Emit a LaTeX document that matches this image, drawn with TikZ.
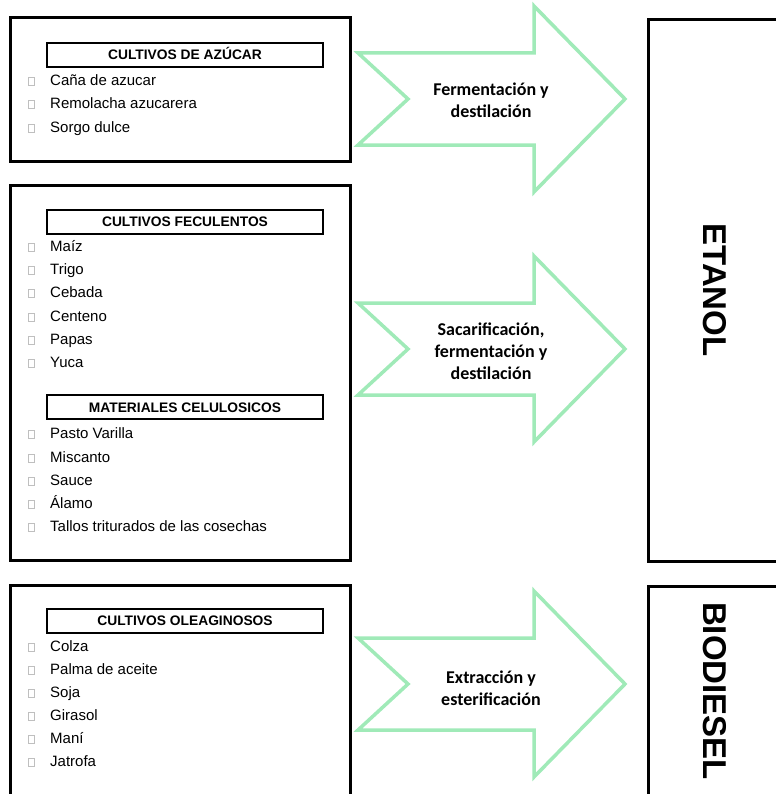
\documentclass[tikz,border=0pt]{standalone}
\usepackage{fontspec}
\setmainfont{Liberation Sans}
\newfontfamily\calib{Carlito}
\definecolor{arrowgreen}{RGB}{160,234,184}
\begin{document}
\begin{tikzpicture}[x=1bp,y=-1bp,
  outer/.style={draw=black, line width=3bp},
  hdr/.style={draw=black, line width=2bp, minimum width=276bp, minimum height=24bp, inner sep=0pt,
    text height=10bp, text depth=0pt, font=\fontsize{13.8bp}{16bp}\selectfont\bfseries},
  arr/.style={draw=arrowgreen, line width=3.5bp, line join=miter},
  item/.style={anchor=base west, inner sep=0pt, font=\fontsize{15bp}{18bp}\selectfont},
  bul/.style={draw=gray!50, line width=0.6bp},
  arrtext/.style={align=center, inner sep=0pt, font=\fontsize{18bp}{22bp}\selectfont\calib\bfseries},
  prod/.style={rotate=-90, inner sep=0pt, font=\fontsize{33bp}{36bp}\selectfont\bfseries}]
\useasboundingbox (0,0) rectangle (776,794);
% outer boxes
\draw[outer] (10,18) rectangle (350,161);
\draw[outer] (10,185) rectangle (350,560);
\draw[outer] (10,585) rectangle (350,820);
\draw[outer] (648,20) rectangle (800,561);
\draw[outer] (648,586) rectangle (800,820);
% headers
\node[hdr] (h1) at (185,55) {CULTIVOS DE AZÚCAR};
\node[hdr] (h2) at (185,221.5) {CULTIVOS FECULENTOS};
\node[hdr] (h3) at (185,407) {MATERIALES CELULOSICOS};
\node[hdr] (h4) at (185,620.5) {CULTIVOS OLEAGINOSOS};
% items
\foreach \yy/\tt [count=\i] in {80/Caña de azucar,103/Remolacha azucarera,127/Sorgo dulce,
  246/Maíz,269/Trigo,292/Cebada,316/Centeno,339/Papas,362/Yuca,
  433/Pasto Varilla,457/Miscanto,480/Sauce,503/Álamo,526/Tallos triturados de las cosechas,
  646/Colza,669/Palma de aceite,692/Soja,715/Girasol,738/Maní,761/Jatrofa}{
  \draw[bul] (28,\yy-3) rectangle (34,\yy+5);
  \node[item] (it\i) at (50,\yy+5.5) {\tt};
}
% arrows
\foreach \cy in {99,349,684}{
  \draw[arr] (358,\cy-46) -- (534,\cy-46) -- (534,\cy-93) -- (625,\cy) -- (534,\cy+93)
    -- (534,\cy+46) -- (358,\cy+46) -- (408,\cy) -- cycle;
}
\node[arrtext] (a1) at (491,100) {Fermentación y\\destilación};
\node[arrtext] (a2) at (491,351) {Sacarificación,\\fermentación y\\destilación};
\node[arrtext] (a3) at (491,688) {Extracción y\\esterificación};
% products
\node[prod] (etanol) at (715,290) {ETANOL};
\node[prod] (bio) at (715,691) {BIODIESEL};
\end{tikzpicture}
\end{document}
